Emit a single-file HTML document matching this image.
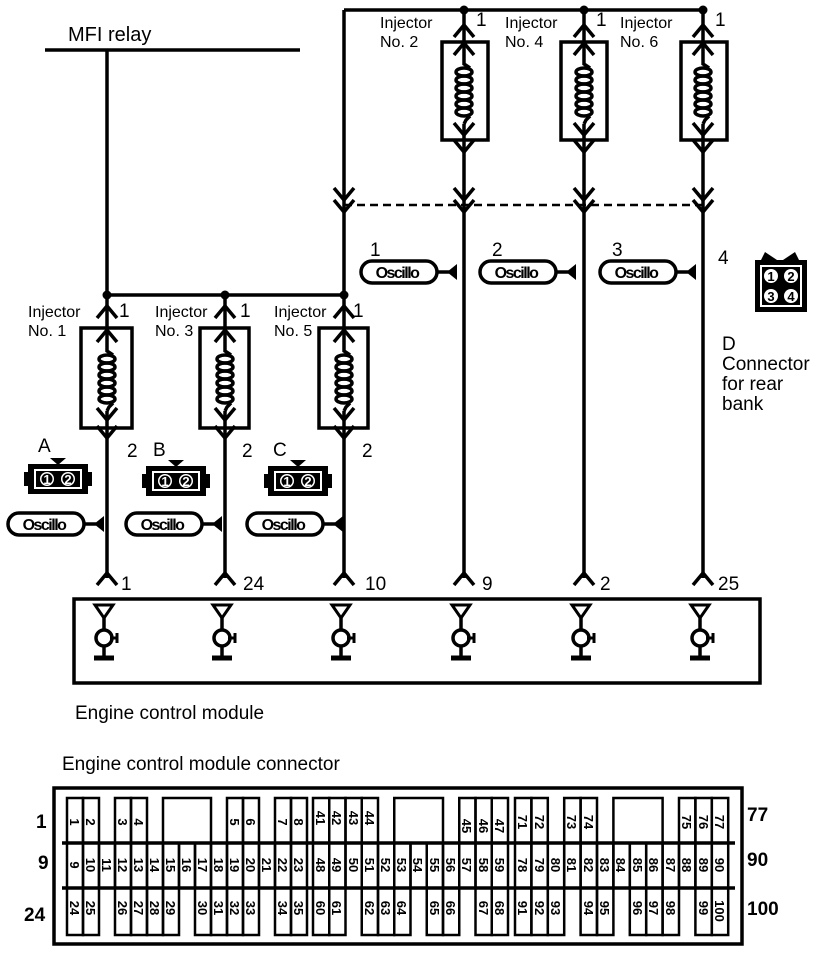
<!DOCTYPE html>
<html><head><meta charset="utf-8"><style>
html,body{margin:0;padding:0;background:#fff;}
svg{display:block;}
text{font-family:"Liberation Sans",Arial,sans-serif;fill:#000;}
</style></head><body>
<svg width="832" height="954" viewBox="0 0 832 954" xmlns="http://www.w3.org/2000/svg">
<defs>
<path id="cu" d="M-10,12 L0,0 L10,12" fill="none" stroke="#000" stroke-width="3.5"/>
<path id="cd" d="M-10,-12 L0,0 L10,-12" fill="none" stroke="#000" stroke-width="3.5"/>
<g id="coil" fill="none" stroke="#000" stroke-width="3.5">
<path d="M0,0 L0,6 L6,10"/>
<ellipse cx="0" cy="14" rx="8" ry="4"/><ellipse cx="0" cy="22" rx="8" ry="4"/><ellipse cx="0" cy="30" rx="8" ry="4"/><ellipse cx="0" cy="38" rx="8" ry="4"/><ellipse cx="0" cy="46" rx="8" ry="4"/><ellipse cx="0" cy="54" rx="8" ry="4"/>
<path d="M6,58 L2,62 L0,66"/>
</g>
<g id="ecm" fill="none" stroke="#000" stroke-width="3.5">
<path d="M-12,7 L6,7 L-3,20 Z" stroke-width="3"/>
<line x1="-3" y1="20" x2="-3" y2="32"/>
<circle cx="-3" cy="40" r="8"/>
<path d="M3,40 L10,40 M10,35 L10,45" stroke-width="3"/>
<line x1="-3" y1="48" x2="-3" y2="58"/>
<line x1="-13" y1="60" x2="7" y2="60" stroke-width="5"/>
</g>
<g id="osc">
<rect x="0" y="0" width="76" height="22" rx="11" fill="#fff" stroke="#000" stroke-width="3.5"/>
<text x="36" y="17" font-size="16" font-weight="bold" text-anchor="middle" letter-spacing="-1.5">Oscillo</text>
<line x1="76" y1="11" x2="88" y2="11" stroke="#000" stroke-width="3.5"/>
<path d="M86,11 L96,3 L96,19 Z" fill="#000"/>
</g>
<g id="con2">
<path d="M26,-6 L42,-6 L34,1 Z" fill="#000"/>
<rect x="4" y="0" width="60" height="30" fill="#000"/>
<rect x="0" y="8" width="68" height="14" fill="#000"/>
<rect x="10" y="5" width="48" height="20" fill="#fff"/>
<rect x="12" y="7" width="44" height="16" fill="#000"/>
<circle cx="23" cy="15" r="7" fill="#fff"/><circle cx="23" cy="15" r="5.5" fill="#000"/>
<circle cx="44" cy="15" r="7" fill="#fff"/><circle cx="44" cy="15" r="5.5" fill="#000"/>
<text x="23" y="20" font-size="13" font-weight="bold" text-anchor="middle" style="fill:#fff">1</text>
<text x="44" y="20" font-size="13" font-weight="bold" text-anchor="middle" style="fill:#fff">2</text>
</g>
</defs>

<g stroke="#000" stroke-width="3.5" fill="none">
<line x1="45" y1="50" x2="300" y2="50"/>
<line x1="107" y1="50" x2="107" y2="578"/>
<line x1="107" y1="295" x2="344" y2="295"/>
<line x1="225" y1="295" x2="225" y2="578"/>
<line x1="344" y1="10" x2="344" y2="578"/>
<line x1="344" y1="10" x2="703" y2="10"/>
<line x1="464" y1="10" x2="464" y2="578"/>
<line x1="584" y1="10" x2="584" y2="578"/>
<line x1="703" y1="10" x2="703" y2="578"/>
<line x1="344" y1="205" x2="703" y2="205" stroke-width="2.5" stroke-dasharray="8,5"/>
<rect x="81" y="328" width="51" height="100" fill="#fff"/>
<rect x="200" y="328" width="49" height="100" fill="#fff"/>
<rect x="319" y="328" width="49" height="100" fill="#fff"/>
<rect x="442" y="42" width="46" height="98" fill="#fff"/>
<rect x="561" y="42" width="46" height="98" fill="#fff"/>
<rect x="681" y="42" width="46" height="98" fill="#fff"/>
<rect x="74" y="599" width="686" height="84"/>
</g>
<g stroke="#000" stroke-width="3.5">
<line x1="107" y1="328" x2="107" y2="345"/><line x1="107" y1="411" x2="107" y2="428"/>
<line x1="225" y1="328" x2="225" y2="345"/><line x1="225" y1="411" x2="225" y2="428"/>
<line x1="344" y1="328" x2="344" y2="345"/><line x1="344" y1="411" x2="344" y2="428"/>
<line x1="464" y1="42" x2="464" y2="58"/><line x1="464" y1="124" x2="464" y2="140"/>
<line x1="584" y1="42" x2="584" y2="58"/><line x1="584" y1="124" x2="584" y2="140"/>
<line x1="703" y1="42" x2="703" y2="58"/><line x1="703" y1="124" x2="703" y2="140"/>
</g>
<use href="#coil" x="107" y="345"/><use href="#coil" x="225" y="345"/><use href="#coil" x="344" y="345"/>
<use href="#coil" x="464" y="58"/><use href="#coil" x="584" y="58"/><use href="#coil" x="703" y="58"/>
<use href="#cu" x="107" y="306"/><use href="#cu" x="107" y="330"/><use href="#cd" x="107" y="420"/><use href="#cd" x="107" y="438"/>
<use href="#cu" x="225" y="306"/><use href="#cu" x="225" y="330"/><use href="#cd" x="225" y="420"/><use href="#cd" x="225" y="438"/>
<use href="#cu" x="344" y="306"/><use href="#cu" x="344" y="330"/><use href="#cd" x="344" y="420"/><use href="#cd" x="344" y="438"/>
<use href="#cu" x="464" y="25"/><use href="#cu" x="464" y="43"/><use href="#cd" x="464" y="135"/><use href="#cd" x="464" y="152"/>
<use href="#cu" x="584" y="25"/><use href="#cu" x="584" y="43"/><use href="#cd" x="584" y="135"/><use href="#cd" x="584" y="152"/>
<use href="#cu" x="703" y="25"/><use href="#cu" x="703" y="43"/><use href="#cd" x="703" y="135"/><use href="#cd" x="703" y="152"/>
<use href="#cd" x="344" y="200"/><use href="#cd" x="344" y="212"/>
<use href="#cd" x="464" y="200"/><use href="#cd" x="464" y="212"/>
<use href="#cd" x="584" y="200"/><use href="#cd" x="584" y="212"/>
<use href="#cd" x="703" y="200"/><use href="#cd" x="703" y="212"/>
<use href="#cu" x="107" y="573"/><use href="#cu" x="225" y="573"/><use href="#cu" x="344" y="573"/>
<use href="#cu" x="464" y="573"/><use href="#cu" x="584" y="573"/><use href="#cu" x="703" y="573"/>
<g fill="#000">
<circle cx="107" cy="295" r="4.5"/><circle cx="225" cy="295" r="4.5"/><circle cx="344" cy="295" r="4.5"/>
<circle cx="464" cy="10" r="4.5"/><circle cx="584" cy="10" r="4.5"/><circle cx="703" cy="10" r="4.5"/>
</g>
<use href="#ecm" x="107" y="598"/><use href="#ecm" x="225" y="598"/><use href="#ecm" x="344" y="598"/>
<use href="#ecm" x="464" y="598"/><use href="#ecm" x="584" y="598"/><use href="#ecm" x="703" y="598"/>
<use href="#osc" x="8" y="513"/><use href="#osc" x="126" y="513"/><use href="#osc" x="247" y="513"/>
<use href="#osc" x="361" y="261"/><use href="#osc" x="480" y="261"/><use href="#osc" x="600" y="261"/>
<use href="#con2" x="24" y="464"/><use href="#con2" x="142" y="466"/><use href="#con2" x="264" y="466"/>
<g>
<path d="M760,262 L765,252 L780,262 L795,252 L800,262 Z" fill="#000"/>
<rect x="755" y="260" width="52" height="52" fill="#000"/>
<rect x="760" y="265" width="42" height="42" fill="#fff"/>
<rect x="762" y="267" width="38" height="38" fill="#000"/>
<circle cx="771" cy="276" r="7" fill="#fff"/><circle cx="791" cy="276" r="7" fill="#fff"/>
<circle cx="771" cy="296" r="7" fill="#fff"/><circle cx="791" cy="296" r="7" fill="#fff"/>
<text x="771" y="281" font-size="13" font-weight="bold" text-anchor="middle">1</text>
<text x="791" y="281" font-size="13" font-weight="bold" text-anchor="middle">2</text>
<text x="771" y="301" font-size="13" font-weight="bold" text-anchor="middle">3</text>
<text x="791" y="301" font-size="13" font-weight="bold" text-anchor="middle">4</text>
</g>

<text x="68" y="41" font-size="20">MFI relay</text>
<g font-size="16">
<text x="28" y="317">Injector</text><text x="28" y="336">No. 1</text>
<text x="155" y="317">Injector</text><text x="155" y="336">No. 3</text>
<text x="274" y="317">Injector</text><text x="274" y="336">No. 5</text>
<text x="380" y="28">Injector</text><text x="380" y="47">No. 2</text>
<text x="505" y="28">Injector</text><text x="505" y="47">No. 4</text>
<text x="620" y="28">Injector</text><text x="620" y="47">No. 6</text>
</g>
<g font-size="19">
<text x="119" y="317">1</text><text x="240" y="317">1</text><text x="353" y="317">1</text>
<text x="476" y="26">1</text><text x="596" y="26">1</text><text x="715" y="26">1</text>
<text x="127" y="457">2</text><text x="242" y="457">2</text><text x="362" y="457">2</text>
<text x="38" y="452">A</text><text x="153" y="456">B</text><text x="273" y="456">C</text>
<text x="370" y="256">1</text><text x="492" y="256">2</text><text x="612" y="256">3</text><text x="718" y="264">4</text>
<text x="121" y="590">1</text><text x="243" y="590">24</text><text x="365" y="590">10</text>
<text x="482" y="590">9</text><text x="600" y="590">2</text><text x="718" y="590">25</text>
<text x="722" y="350">D</text><text x="722" y="370">Connector</text><text x="722" y="390">for rear</text><text x="722" y="410">bank</text>
<text x="75" y="719">Engine control module</text>
<text x="62" y="770">Engine control module connector</text>
</g>

<rect x="54" y="788" width="688" height="156" fill="none" stroke="#000" stroke-width="3.5"/>
<g stroke="#000" stroke-width="3.5">
<line x1="62" y1="843" x2="735" y2="843"/><line x1="62" y1="888" x2="735" y2="888"/>
</g>
<g fill="none" stroke="#000" stroke-width="2.5">
<rect x="67" y="798" width="16" height="45"/><rect x="83" y="798" width="16" height="45"/>
<rect x="115" y="798" width="16" height="45"/><rect x="131" y="798" width="16" height="45"/>
<rect x="163" y="798" width="48" height="45"/>
<rect x="227" y="798" width="16" height="45"/><rect x="243" y="798" width="16" height="45"/>
<rect x="275" y="798" width="16" height="45"/><rect x="291" y="798" width="16" height="45"/>
<rect x="313" y="798" width="16.25" height="45"/><rect x="329.25" y="798" width="16.25" height="45"/><rect x="345.5" y="798" width="16.25" height="45"/><rect x="361.75" y="798" width="16.25" height="45"/>
<rect x="394.25" y="798" width="48.75" height="45"/>
<rect x="459.25" y="798" width="16.25" height="45"/><rect x="475.5" y="798" width="16.25" height="45"/><rect x="491.75" y="798" width="16.25" height="45"/>
<rect x="515" y="798" width="16.4" height="45"/><rect x="531.4" y="798" width="16.4" height="45"/>
<rect x="564.2" y="798" width="16.4" height="45"/><rect x="580.6" y="798" width="16.4" height="45"/>
<rect x="613.4" y="798" width="49.2" height="45"/>
<rect x="679" y="798" width="16.4" height="45"/><rect x="695.4" y="798" width="16.4" height="45"/><rect x="711.8" y="798" width="16.4" height="45"/>
<rect x="67" y="843" width="16" height="45"/><rect x="83" y="843" width="16" height="45"/><rect x="99" y="843" width="16" height="45"/><rect x="115" y="843" width="16" height="45"/><rect x="131" y="843" width="16" height="45"/><rect x="147" y="843" width="16" height="45"/><rect x="163" y="843" width="16" height="45"/><rect x="179" y="843" width="16" height="45"/><rect x="195" y="843" width="16" height="45"/><rect x="211" y="843" width="16" height="45"/><rect x="227" y="843" width="16" height="45"/><rect x="243" y="843" width="16" height="45"/><rect x="259" y="843" width="16" height="45"/><rect x="275" y="843" width="16" height="45"/><rect x="291" y="843" width="16" height="45"/>
<rect x="313" y="843" width="16.25" height="45"/><rect x="329.25" y="843" width="16.25" height="45"/><rect x="345.5" y="843" width="16.25" height="45"/><rect x="361.75" y="843" width="16.25" height="45"/><rect x="378" y="843" width="16.25" height="45"/><rect x="394.25" y="843" width="16.25" height="45"/><rect x="410.5" y="843" width="16.25" height="45"/><rect x="426.75" y="843" width="16.25" height="45"/><rect x="443" y="843" width="16.25" height="45"/><rect x="459.25" y="843" width="16.25" height="45"/><rect x="475.5" y="843" width="16.25" height="45"/><rect x="491.75" y="843" width="16.25" height="45"/>
<rect x="515" y="843" width="16.4" height="45"/><rect x="531.4" y="843" width="16.4" height="45"/><rect x="547.8" y="843" width="16.4" height="45"/><rect x="564.2" y="843" width="16.4" height="45"/><rect x="580.6" y="843" width="16.4" height="45"/><rect x="597" y="843" width="16.4" height="45"/><rect x="613.4" y="843" width="16.4" height="45"/><rect x="629.8" y="843" width="16.4" height="45"/><rect x="646.2" y="843" width="16.4" height="45"/><rect x="662.6" y="843" width="16.4" height="45"/><rect x="679" y="843" width="16.4" height="45"/><rect x="695.4" y="843" width="16.4" height="45"/><rect x="711.8" y="843" width="16.4" height="45"/>
<rect x="67" y="888" width="16" height="47"/><rect x="83" y="888" width="16" height="47"/>
<rect x="115" y="888" width="16" height="47"/><rect x="131" y="888" width="16" height="47"/><rect x="147" y="888" width="16" height="47"/><rect x="163" y="888" width="16" height="47"/>
<rect x="195" y="888" width="16" height="47"/><rect x="211" y="888" width="16" height="47"/><rect x="227" y="888" width="16" height="47"/><rect x="243" y="888" width="16" height="47"/>
<rect x="275" y="888" width="16" height="47"/><rect x="291" y="888" width="16" height="47"/>
<rect x="313" y="888" width="16.25" height="47"/><rect x="329.25" y="888" width="16.25" height="47"/>
<rect x="361.75" y="888" width="16.25" height="47"/><rect x="378" y="888" width="16.25" height="47"/><rect x="394.25" y="888" width="16.25" height="47"/>
<rect x="426.75" y="888" width="16.25" height="47"/><rect x="443" y="888" width="16.25" height="47"/>
<rect x="475.5" y="888" width="16.25" height="47"/><rect x="491.75" y="888" width="16.25" height="47"/>
<rect x="515" y="888" width="16.4" height="47"/><rect x="531.4" y="888" width="16.4" height="47"/><rect x="547.8" y="888" width="16.4" height="47"/>
<rect x="580.6" y="888" width="16.4" height="47"/><rect x="597" y="888" width="16.4" height="47"/>
<rect x="629.8" y="888" width="16.4" height="47"/><rect x="646.2" y="888" width="16.4" height="47"/><rect x="662.6" y="888" width="16.4" height="47"/>
<rect x="695.4" y="888" width="16.4" height="47"/><rect x="711.8" y="888" width="16.4" height="47"/>
</g>
<g font-size="13" font-weight="bold" text-anchor="middle">
<text transform="translate(70,822) rotate(90)">1</text><text transform="translate(86,822) rotate(90)">2</text>
<text transform="translate(118,822) rotate(90)">3</text><text transform="translate(134,822) rotate(90)">4</text>
<text transform="translate(230,822) rotate(90)">5</text><text transform="translate(246,822) rotate(90)">6</text>
<text transform="translate(278,822) rotate(90)">7</text><text transform="translate(294,822) rotate(90)">8</text>
<text transform="translate(316,818) rotate(90)">41</text><text transform="translate(332,818) rotate(90)">42</text><text transform="translate(349,818) rotate(90)">43</text><text transform="translate(365,818) rotate(90)">44</text>
<text transform="translate(462,826) rotate(90)">45</text><text transform="translate(479,826) rotate(90)">46</text><text transform="translate(495,826) rotate(90)">47</text>
<text transform="translate(518,822) rotate(90)">71</text><text transform="translate(535,822) rotate(90)">72</text>
<text transform="translate(567,822) rotate(90)">73</text><text transform="translate(584,822) rotate(90)">74</text>
<text transform="translate(682,822) rotate(90)">75</text><text transform="translate(699,822) rotate(90)">76</text><text transform="translate(715,822) rotate(90)">77</text>
<text transform="translate(70,865) rotate(90)">9</text><text transform="translate(86,865) rotate(90)">10</text><text transform="translate(102,865) rotate(90)">11</text><text transform="translate(118,865) rotate(90)">12</text><text transform="translate(134,865) rotate(90)">13</text><text transform="translate(150,865) rotate(90)">14</text><text transform="translate(166,865) rotate(90)">15</text><text transform="translate(182,865) rotate(90)">16</text><text transform="translate(198,865) rotate(90)">17</text><text transform="translate(214,865) rotate(90)">18</text><text transform="translate(230,865) rotate(90)">19</text><text transform="translate(246,865) rotate(90)">20</text><text transform="translate(262,865) rotate(90)">21</text><text transform="translate(278,865) rotate(90)">22</text><text transform="translate(294,865) rotate(90)">23</text>
<text transform="translate(316,865) rotate(90)">48</text><text transform="translate(332,865) rotate(90)">49</text><text transform="translate(349,865) rotate(90)">50</text><text transform="translate(365,865) rotate(90)">51</text><text transform="translate(381,865) rotate(90)">52</text><text transform="translate(397,865) rotate(90)">53</text><text transform="translate(413,865) rotate(90)">54</text><text transform="translate(430,865) rotate(90)">55</text><text transform="translate(446,865) rotate(90)">56</text><text transform="translate(462,865) rotate(90)">57</text><text transform="translate(479,865) rotate(90)">58</text><text transform="translate(495,865) rotate(90)">59</text>
<text transform="translate(518,865) rotate(90)">78</text><text transform="translate(535,865) rotate(90)">79</text><text transform="translate(551,865) rotate(90)">80</text><text transform="translate(567,865) rotate(90)">81</text><text transform="translate(584,865) rotate(90)">82</text><text transform="translate(600,865) rotate(90)">83</text><text transform="translate(616,865) rotate(90)">84</text><text transform="translate(633,865) rotate(90)">85</text><text transform="translate(649,865) rotate(90)">86</text><text transform="translate(666,865) rotate(90)">87</text><text transform="translate(682,865) rotate(90)">88</text><text transform="translate(699,865) rotate(90)">89</text><text transform="translate(715,865) rotate(90)">90</text>
<text transform="translate(70,908) rotate(90)">24</text><text transform="translate(86,908) rotate(90)">25</text>
<text transform="translate(118,908) rotate(90)">26</text><text transform="translate(134,908) rotate(90)">27</text><text transform="translate(150,908) rotate(90)">28</text><text transform="translate(166,908) rotate(90)">29</text>
<text transform="translate(198,908) rotate(90)">30</text><text transform="translate(214,908) rotate(90)">31</text><text transform="translate(230,908) rotate(90)">32</text><text transform="translate(246,908) rotate(90)">33</text>
<text transform="translate(278,908) rotate(90)">34</text><text transform="translate(294,908) rotate(90)">35</text>
<text transform="translate(316,908) rotate(90)">60</text><text transform="translate(332,908) rotate(90)">61</text>
<text transform="translate(365,908) rotate(90)">62</text><text transform="translate(381,908) rotate(90)">63</text><text transform="translate(397,908) rotate(90)">64</text>
<text transform="translate(430,908) rotate(90)">65</text><text transform="translate(446,908) rotate(90)">66</text>
<text transform="translate(479,908) rotate(90)">67</text><text transform="translate(495,908) rotate(90)">68</text>
<text transform="translate(518,908) rotate(90)">91</text><text transform="translate(535,908) rotate(90)">92</text><text transform="translate(551,908) rotate(90)">93</text>
<text transform="translate(584,908) rotate(90)">94</text><text transform="translate(600,908) rotate(90)">95</text>
<text transform="translate(633,908) rotate(90)">96</text><text transform="translate(649,908) rotate(90)">97</text><text transform="translate(666,908) rotate(90)">98</text>
<text transform="translate(699,908) rotate(90)">99</text><text transform="translate(715,911) rotate(90)">100</text>
</g>
<g font-size="19" font-weight="bold">
<text x="36" y="828">1</text><text x="38" y="869">9</text><text x="24" y="921">24</text>
<text x="747" y="821">77</text><text x="747" y="866">90</text><text x="747" y="915">100</text>
</g>
</svg>
</body></html>
